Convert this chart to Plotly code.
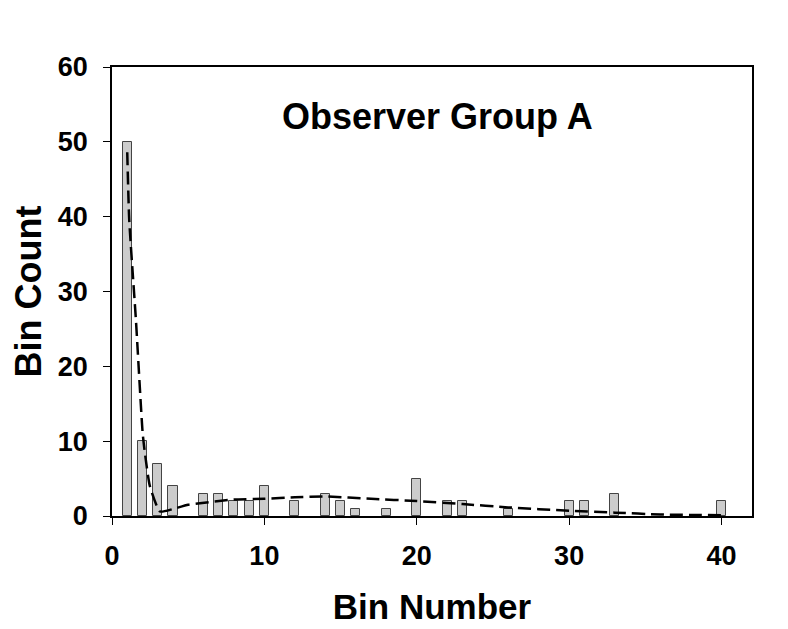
import plotly.graph_objects as go

bin_number = [1, 2, 3, 4, 6, 7, 8, 9, 10, 12, 14, 15, 16, 18, 20, 22, 23, 26, 30, 31, 33, 40]
bin_count = [50, 10, 7, 4, 3, 3, 2, 2, 4, 2, 3, 2, 1, 1, 5, 2, 2, 1, 2, 2, 3, 2]

fit_x = [1, 1.13, 1.57, 2.01, 2.16, 2.49, 3.15, 4, 5, 8, 10, 12, 14, 17, 20, 23, 26, 30, 33, 36, 40]
fit_y = [48.6, 39.6, 26.2, 11.1, 8.4, 3.95, 0.6, 0.93, 1.5, 2.2, 2.3, 2.5, 2.6, 2.3, 2.0, 1.6, 1.15, 0.7, 0.45, 0.2, 0.1]

FONT = "Arial, Liberation Sans, sans-serif"

fig = go.Figure()
fig.add_trace(go.Bar(
    x=bin_number, y=bin_count, width=0.6,
    marker=dict(color="#cccccc", line=dict(color="#444444", width=1)),
    showlegend=False,
))
fig.add_trace(go.Scatter(
    x=fit_x, y=fit_y, mode="lines",
    line=dict(color="black", width=2.5, dash="13px,6px", shape="spline", smoothing=0.5),
    showlegend=False,
))

fig.update_layout(
    width=788, height=629,
    margin=dict(l=104, r=44, t=59, b=121),
    plot_bgcolor="white", paper_bgcolor="white",
    font=dict(family=FONT, color="black"),
    bargap=0,
    annotations=[dict(
        text="<b>Observer Group A</b>", x=0.508, y=0.889, xref="paper", yref="paper",
        showarrow=False, font=dict(size=36, family=FONT, color="black"),
        xanchor="center", yanchor="middle",
    )],
)
fig.update_xaxes(
    range=[0, 42], tickvals=[0, 10, 20, 30, 40], ticktext=["<b>0</b>", "<b>10</b>", "<b>20</b>", "<b>30</b>", "<b>40</b>"],
    ticks="outside", ticklen=7, tickwidth=1, tickcolor="black",
    showline=True, linecolor="black", linewidth=1.5, mirror=True,
    showgrid=False, zeroline=False, automargin=False,
    tickfont=dict(size=27, family=FONT), ticklabelstandoff=8,
    title=dict(text="<b>Bin Number</b>", font=dict(size=35, family=FONT), standoff=24),
)
fig.update_yaxes(
    range=[0, 60], tickvals=[0, 10, 20, 30, 40, 50, 60], ticktext=["<b>0</b>", "<b>10</b>", "<b>20</b>", "<b>30</b>", "<b>40</b>", "<b>50</b>", "<b>60</b>"],
    ticks="outside", ticklen=7, tickwidth=1, tickcolor="black",
    showline=True, linecolor="black", linewidth=1.5, mirror=True,
    showgrid=False, zeroline=False, automargin=False,
    tickfont=dict(size=27, family=FONT), ticklabelstandoff=10,
    title=dict(text="<b>Bin Count</b>", font=dict(size=36, family=FONT), standoff=22),
)

fig.write_html("out.html")
